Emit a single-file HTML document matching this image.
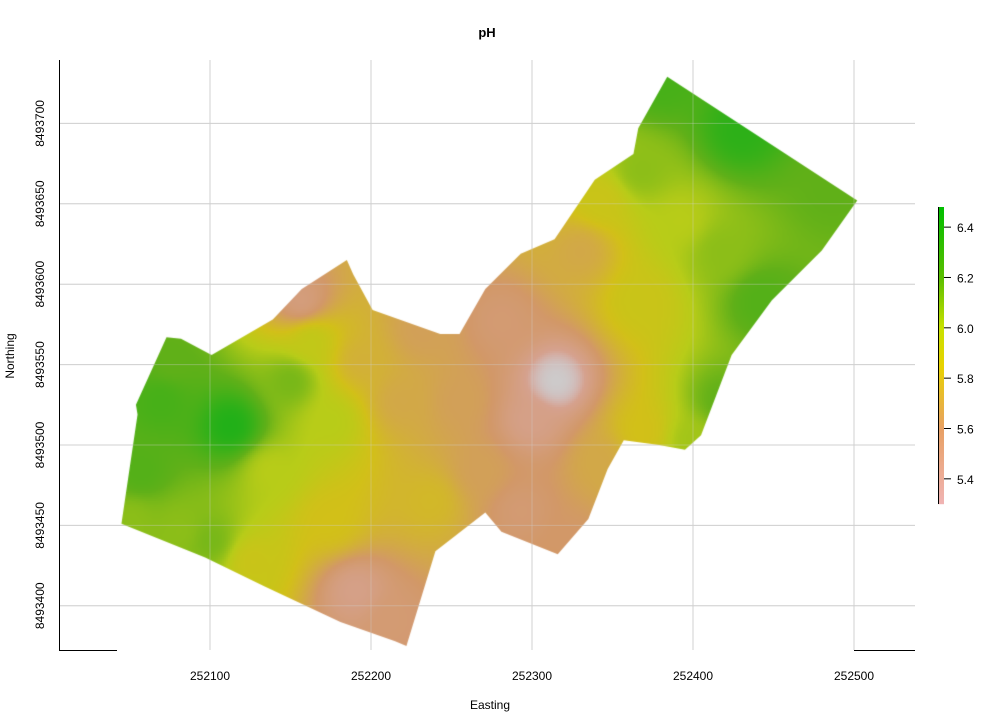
<!DOCTYPE html>
<html><head><meta charset="utf-8"><style>
body{margin:0;background:#fff;font-family:"Liberation Sans",sans-serif}
#wrap{position:relative;width:1000px;height:727px}
svg,canvas{position:absolute;left:0;top:0}
</style></head><body>
<div id="wrap">
<svg id="bg" width="1000" height="727"></svg>
<canvas id="cv" width="1000" height="727"></canvas>
<svg id="sv" width="1000" height="727"></svg>
</div>
<script>
const xTicks=[252100,252200,252300,252400,252500];
const yTicks=[8493400,8493450,8493500,8493550,8493600,8493650,8493700];
const cbTicks=[5.4,5.6,5.8,6.0,6.2,6.4];
// sample points (pixel-read, converted to map coords)
const samplePx=[230,160,170,140,130,290,330,310,360,300,420,400,270,330,430,480,355,250,180,555,500,520,570,600,640,690,720,760,720,680,640,580,600,740,660,830,640,530,460,210,390];
const samplePy=[425,400,360,470,520,380,420,340,360,300,330,400,470,520,500,470,590,560,530,380,320,510,540,460,430,440,400,300,250,220,300,250,200,130,80,190,170,420,400,540,620];
const samplePH=[6.45,6.3,6.2,6.25,6.1,6.15,6.0,5.95,5.75,5.5,5.65,5.7,6.0,5.85,5.8,5.65,5.45,5.9,6.1,5.3,5.55,5.55,5.6,5.7,5.85,6.05,6.2,6.25,6.1,6.0,5.9,5.7,5.9,6.4,6.3,6.2,6.1,5.45,5.65,6.15,5.55];
const boundE=[252045,252055,252054,252073,252082,252101,252139,252157,252185,252189,252201,252243,252255,252271,252293,252314,252339,252363,252366,252384,252502,252480,252449,252424,252405,252395,252379,252357,252347,252335,252316,252281,252271,252240,252222,252215,252181,252134,252097];
const boundN=[8493451,8493519,8493525,8493567,8493566,8493556,8493578,8493597,8493615,8493606,8493584,8493569,8493569,8493597,8493619,8493628,8493665,8493681,8493697,8493729,8493652,8493621,8493590,8493556,8493506,8493497,8493500,8493503,8493485,8493454,8493432,8493446,8493458,8493434,8493375,8493378,8493390,8493412,8493430];
const X=e=>210+(e-252100)*1.61, Y=n=>445-(n-8493500)*1.608;
const CB=v=>504-(v-5.3)*(297/1.18);
const stops=[[5.3,[240,180,180]],[5.6,[232,160,100]],[5.85,[232,210,0]],[6.0,[200,225,0]],[6.2,[90,190,0]],[6.48,[0,190,0]]];
function col(v){if(v<=stops[0][0])return stops[0][1];for(let i=1;i<stops.length;i++){if(v<=stops[i][0]){const a=stops[i-1],b=stops[i],t=(v-a[0])/(b[0]-a[0]);return a[1].map((c,k)=>c+(b[1][k]-c)*t);}}return stops[stops.length-1][1];}
const ns='http://www.w3.org/2000/svg',sv=document.getElementById('sv'),bg=document.getElementById('bg');
function mk(t,a,p){const e=document.createElementNS(ns,t);for(const k in a)e.setAttribute(k,a[k]);(p||sv).appendChild(e);return e;}
xTicks.forEach(t=>{const l=mk('line',{x1:X(t),x2:X(t),y1:60,y2:650,stroke:'#d0d0d0'},bg);});
yTicks.forEach(t=>{const l=mk('line',{x1:60,x2:915,y1:Y(t),y2:Y(t),stroke:'#d0d0d0'},bg);});
const cv=document.getElementById('cv'),ctx=cv.getContext('2d');
ctx.beginPath();boundE.forEach((e,i)=>{const x=X(e),y=Y(boundN[i]);i?ctx.lineTo(x,y):ctx.moveTo(x,y);});ctx.closePath();ctx.save();ctx.clip();
const sx=samplePx,sy=samplePy;
for(let y=55;y<660;y+=2)for(let x=110;x<860;x+=2){let w=0,s=0;for(let i=0;i<sx.length;i++){const d=(x-sx[i])**2+(y-sy[i])**2+100;const ww=1/Math.pow(d,1.5);w+=ww;s+=ww*samplePH[i];}const v=s/w;let c=col(v);if(v<5.42){const t=(5.42-v)/0.12;c=c.map(q=>q+(225-q)*t);}c=c.map(q=>Math.round(q*0.8+120*0.2));ctx.fillStyle=`rgb(${c})`;ctx.fillRect(x,y,2,2);}
ctx.restore();
xTicks.forEach(t=>{mk('line',{x1:X(t),x2:X(t),y1:60,y2:650,stroke:'#d0d0d0','stroke-opacity':0.35});});
yTicks.forEach(t=>{mk('line',{x1:60,x2:915,y1:Y(t),y2:Y(t),stroke:'#d0d0d0','stroke-opacity':0.35});});
mk('line',{x1:59.5,x2:59.5,y1:60,y2:650,stroke:'#000'});
mk('line',{x1:59,x2:117,y1:650.5,y2:650.5,stroke:'#000'});
mk('line',{x1:854,x2:915,y1:650.5,y2:650.5,stroke:'#000'});
xTicks.forEach(t=>{const e=mk('text',{x:X(t),y:680,'font-size':12,'text-anchor':'middle'});e.textContent=t;});
yTicks.forEach(t=>{const e=mk('text',{x:0,y:0,'font-size':12,'text-anchor':'middle',transform:`translate(44,${Y(t)}) rotate(-90)`});e.textContent=t;});
let e=mk('text',{x:487,y:37,'font-size':13,'font-weight':'bold','text-anchor':'middle'});e.textContent='pH';
e=mk('text',{x:490,y:709,'font-size':12,'text-anchor':'middle'});e.textContent='Easting';
e=mk('text',{x:0,y:0,'font-size':12,'text-anchor':'middle',transform:'translate(14,356) rotate(-90)'});e.textContent='Northing';
for(let y=207;y<504;y++){const v=5.3+(504-y)/(297/1.18);mk('rect',{x:938,y:y,width:6,height:1.2,fill:`rgb(${col(v).map(Math.round)})`});}
mk('line',{x1:938.5,x2:938.5,y1:207,y2:504,stroke:'#000'});
cbTicks.forEach(t=>{mk('line',{x1:944,x2:951,y1:CB(t),y2:CB(t),stroke:'#000'});const q=mk('text',{x:957,y:CB(t)+5,'font-size':12});q.textContent=t.toFixed(1);});
</script>
</body></html>
